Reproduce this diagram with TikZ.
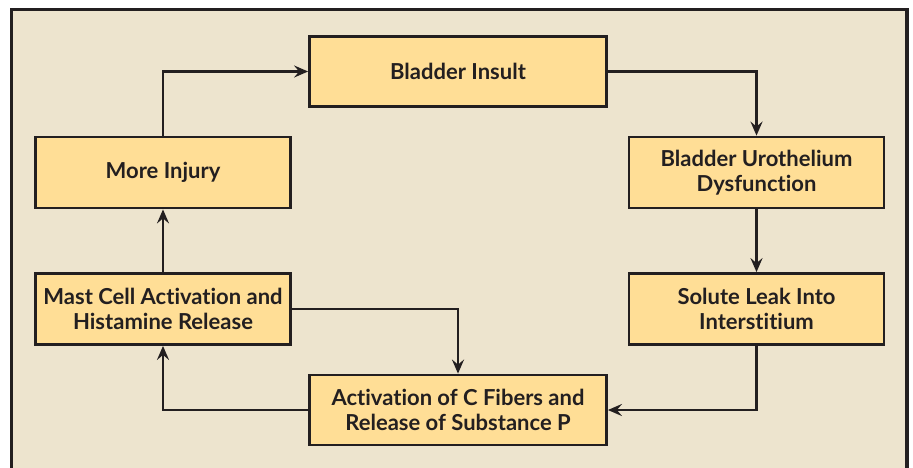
\documentclass[tikz,border=0pt]{standalone}
\usepackage{fontspec}
\setmainfont{Lato}[Ligatures=NoCommon]
\usepackage{xcolor}
\usetikzlibrary{arrows.meta,positioning}

\definecolor{panelbg}{RGB}{237,228,206}
\definecolor{boxfill}{RGB}{255,222,150}
\definecolor{inkline}{RGB}{35,31,32}

\begin{document}
\begin{tikzpicture}[
  x=0.5pt, y=-0.5pt,
  stage/.style={draw=inkline, fill=boxfill, line width=1.4pt, minimum width=148.5pt,
    minimum height=35pt, align=center, inner sep=0pt,
    font=\bfseries\fontsize{11}{12.5}\selectfont, text=inkline},
  side/.style={stage, minimum width=127.5pt, minimum height=35.5pt},
  ->,>={Stealth[length=7pt,width=6pt,inset=2.5pt]},line width=1.2pt,draw=inkline
]
\clip (0,0) rectangle (913,467);
\useasboundingbox (0,0) rectangle (913,467);
\fill[white] (0,0) rectangle (913,467);
\draw[-, line width=1.6pt, fill=panelbg] (11.5,9.5) rectangle (907,490);

\node[stage] (insult) at (458,71.5) {Bladder Insult};
\node[side] (injury) at (163,172.5) {More Injury};
\node[side] (uro) at (756.5,172.5) {Bladder Urothelium\\Dysfunction};
\node[side] (mast) at (163,309) {Mast Cell Activation and\\Histamine Release};
\node[side] (leak) at (756.5,309) {Solute Leak Into\\Interstitium};
\node[stage] (cfib) at (458,410) {Activation of C Fibers and\\Release of Substance P};

\draw (injury) |- (insult);
\draw (insult) -| (uro);
\draw (uro) -- (leak);
\draw (leak) |- (cfib);
\draw (cfib) -| (mast);
\draw (mast) -| (cfib);
\draw (mast) -- (injury);
\end{tikzpicture}
\end{document}
